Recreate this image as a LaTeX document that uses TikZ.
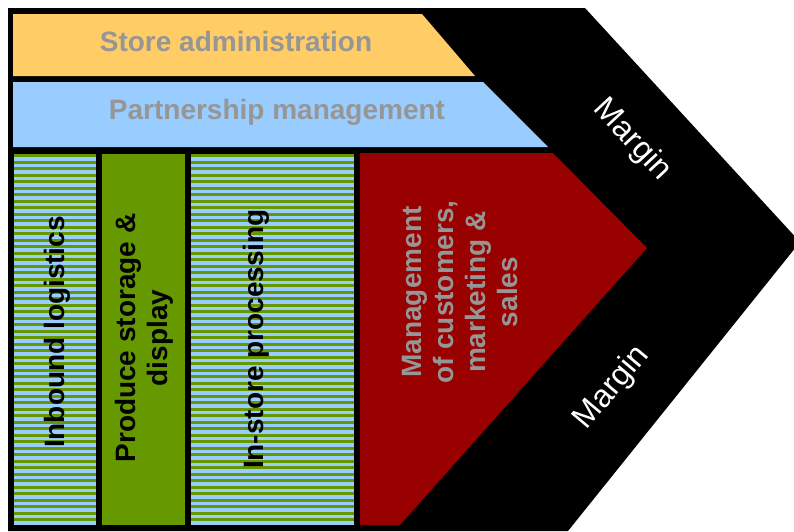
\documentclass[tikz,border=0pt]{standalone}
\usepackage{fontspec}
\setmainfont{Liberation Sans}
\definecolor{storeyellow}{HTML}{FFCC66}
\definecolor{partnerblue}{HTML}{99CCFF}
\definecolor{producegreen}{HTML}{669900}
\definecolor{salesred}{HTML}{990000}
\definecolor{labelgray}{HTML}{969696}
\begin{document}
\begin{tikzpicture}[x=1pt,y=-1pt,
    bartext/.style={font=\fontsize{28}{32}\selectfont\bfseries, text=labelgray},
    coltext/.style={font=\fontsize{28}{32}\selectfont\bfseries, rotate=90, align=center},
    margintext/.style={font=\fontsize{32}{36}\selectfont, text=white}]
\useasboundingbox (0,0) rectangle (794,531);
% black frame of the chain
\fill (8,8) -- (585,8) -- (800,242) -- (568,531) -- (8,531) -- cycle;
% support activities
\fill[storeyellow] (13,14) -- (422,14) -- (475,76) -- (13,76) -- cycle;
\fill[partnerblue] (13,82) -- (483,82) -- (548,147) -- (13,147) -- cycle;
% primary activities
\fill[partnerblue] (14,154) rectangle (96,525);
\fill[partnerblue] (191,154) rectangle (354,525);
\foreach \y in {154,160.5,...,522}{
    \fill[producegreen] (14,\y) rectangle (96,\y+3.2);
    \fill[producegreen] (191,\y) rectangle (354,\y+3.2);
}
\fill[producegreen] (102,154) rectangle (185,525);
\fill[salesred] (360,153) -- (553,153) -- (647,248) -- (400,525) -- (360,525) -- cycle;
% labels
\node[bartext] (store) at (236,41) {Store administration};
\node[bartext] (partner) at (277,112) {Partnership management};
\node[coltext] (inbound) at (57,332) {Inbound logistics};
\node[coltext] (produce) at (144,338) {Produce storage \&\\display};
\node[coltext] (instore) at (256,339) {In-store processing};
\node[coltext, text=labelgray] (sales) at (460,292) {Management\\of customers,\\marketing \&\\sales};
\node[margintext, rotate=-47] (margintop) at (632,140) {Margin};
\node[margintext, rotate=50] (marginbottom) at (612,388) {Margin};
\end{tikzpicture}
\end{document}
